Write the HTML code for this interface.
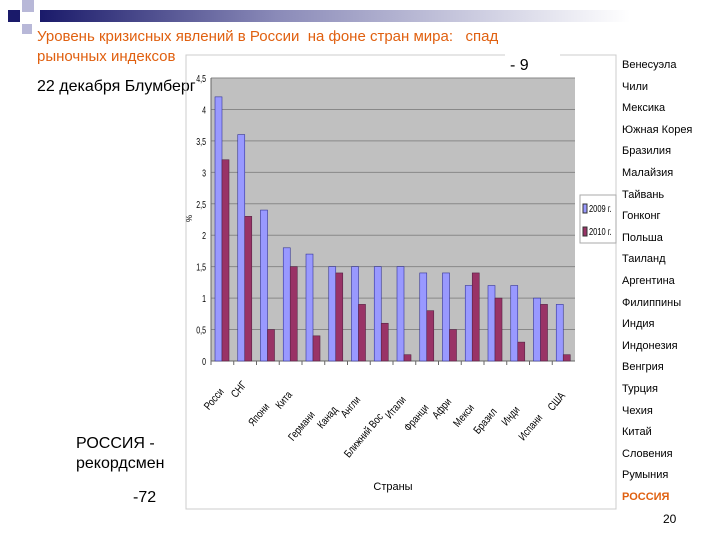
<!DOCTYPE html>
<html><head><meta charset="utf-8"><style>
body{margin:0;width:720px;height:540px;background:#fff;position:relative;overflow:hidden;font-family:"Liberation Sans","Noto Sans CJK SC",sans-serif}
.abs{position:absolute}
#list div{height:21.6px;font-size:11px;color:#000;line-height:21.6px}
</style></head><body>
<div class="abs" style="left:40px;top:10px;width:590px;height:12px;background:linear-gradient(90deg,#1a1a6a,#8a8ab8 40%,#fff)"></div>
<div class="abs" style="left:8px;top:10px;width:12px;height:12px;background:#1a1a6a"></div>
<div class="abs" style="left:22px;top:0px;width:12px;height:12px;background:#b8b8d8"></div>
<div class="abs" style="left:22px;top:24px;width:10px;height:10px;background:#b8b8d8"></div>
<div class="abs" style="left:37px;top:27px;font-size:15px;color:#e06010;line-height:20px;width:580px">Уровень кризисных явлений в России &nbsp;на фоне стран мира: &nbsp;&nbsp;спад<br>рыночных индексов</div>
<div class="abs" style="left:37px;top:78px;font-size:16px">22 декабря Блумберг</div>
<div class="abs" style="left:76px;top:434px;font-size:16px;line-height:20px">РОССИЯ -<br>рекордсмен</div>
<div class="abs" style="left:133px;top:489px;font-size:16px">-72</div>
<div class="abs" style="left:663px;top:512px;font-size:12px">20</div>
<div id="list" class="abs" style="left:622px;top:55px">
<div>Венесуэла</div><div>Чили</div><div>Мексика</div><div>Южная Корея</div><div>Бразилия</div><div>Малайзия</div><div>Тайвань</div><div>Гонконг</div><div>Польша</div><div>Таиланд</div><div>Аргентина</div><div>Филиппины</div><div>Индия</div><div>Индонезия</div><div>Венгрия</div><div>Турция</div><div>Чехия</div><div>Китай</div><div>Словения</div><div>Румыния</div><div style="color:#e06010;font-weight:bold">РОССИЯ</div>
</div>
<svg id="chart" class="abs" style="left:0;top:0" width="720" height="540">
<rect x="186" y="55" width="430" height="454" fill="none" stroke="#ccc"/>
<rect x="505" y="50" width="55" height="14" fill="#fff"/>
<text x="510" y="70" font-size="16">- 9</text>
</svg>
<script>
const categories=["Росси","СНГ","Япони","Кита","Германи","Канад","Англи","Ближний Вос","Итали","Франци","Афри","Мекси","Бразил","Инди","Испани","США"];
const values2009=[4.2,3.6,2.4,1.8,1.7,1.5,1.5,1.5,1.5,1.4,1.4,1.2,1.2,1.2,1.0,0.9];
const values2010=[3.2,2.3,0.5,1.5,0.4,1.4,0.9,0.6,0.1,0.8,0.5,1.4,1.0,0.3,0.9,0.1];
const yTicks=[0,0.5,1,1.5,2,2.5,3,3.5,4,4.5];
const yTickLabels=["0","0,5","1","1,5","2","2,5","3","3,5","4","4,5"];
const labelOffsets=[31,24,46,34,54,49,39,56,39,47,41,47,51,49,57,35];
const svg=document.getElementById('chart');const NS='http://www.w3.org/2000/svg';
const L=211,R=575,T=78,B=361,max=4.5;
const y=v=>B-(v/max)*(B-T);
const gw=(R-L)/categories.length;
const x=i=>L+i*gw;
function mk(t,a){const e=document.createElementNS(NS,t);for(const k in a)e.setAttribute(k,a[k]);svg.appendChild(e);return e;}
const bg=mk('rect',{x:L,y:T,width:R-L,height:B-T,fill:'#c0c0c0'});


yTicks.forEach((t,i)=>{
 if(t>0){const g=mk('line',{x1:L,x2:R,y1:y(t),y2:y(t),stroke:'#888','stroke-width':1});
 
 }
 const tx=mk('text',{x:L-5,y:y(t)+4,'font-size':10,'text-anchor':'end',transform:`translate(${L-5},${y(t)}) scale(0.7,1) translate(${-(L-5)},${-y(t)})`});
 tx.textContent=yTickLabels[i];
 
 
});
const ax=mk('line',{x1:L,x2:R,y1:B,y2:B,stroke:'#666'});


const yax=mk('line',{x1:L,x2:L,y1:T,y2:B,stroke:'#666'});


categories.forEach((c,i)=>{
 const b1=mk('rect',{x:x(i)+4,y:y(values2009[i]),width:7,height:B-y(values2009[i]),fill:'#9999ff',stroke:'#333399','stroke-width':0.6});
 
 
 const b2=mk('rect',{x:x(i)+11,y:y(values2010[i]),width:7,height:B-y(values2010[i]),fill:'#993366',stroke:'#552244','stroke-width':0.6});
 
 
 const tk=mk('line',{x1:x(i),x2:x(i),y1:B,y2:B+4,stroke:'#666'});
 
 
 const lx=x(i)+gw/2+2,ly=B+labelOffsets[i];
 const t=mk('text',{x:lx,y:ly,'font-size':11,'text-anchor':'end',transform:`rotate(-50 ${lx} ${ly}) translate(${lx},${ly}) scale(0.8,1) translate(${-lx},${-ly})`});
 t.textContent=c;
 
 
});
const yt=mk('text',{x:192,y:222,'font-size':8,transform:'rotate(-90 192 222)'});yt.textContent='%';


const xt=mk('text',{x:393,y:490,'font-size':11,'text-anchor':'middle'});xt.textContent='Страны';


const lg=mk('rect',{x:580,y:195,width:36,height:48,fill:'#fff',stroke:'#aaa'});


[['2009 г.','#9999ff',212],['2010 г.','#993366',235]].forEach(d=>{
 const s=mk('rect',{x:583,y:d[2]-8,width:4,height:9,fill:d[1],stroke:'#333'});
 
 
 const t=mk('text',{x:589,y:d[2],'font-size':10,transform:`translate(589,${d[2]}) scale(0.75,1) translate(-589,${-d[2]})`});t.textContent=d[0];
 
 
});
</script>
</body></html>
